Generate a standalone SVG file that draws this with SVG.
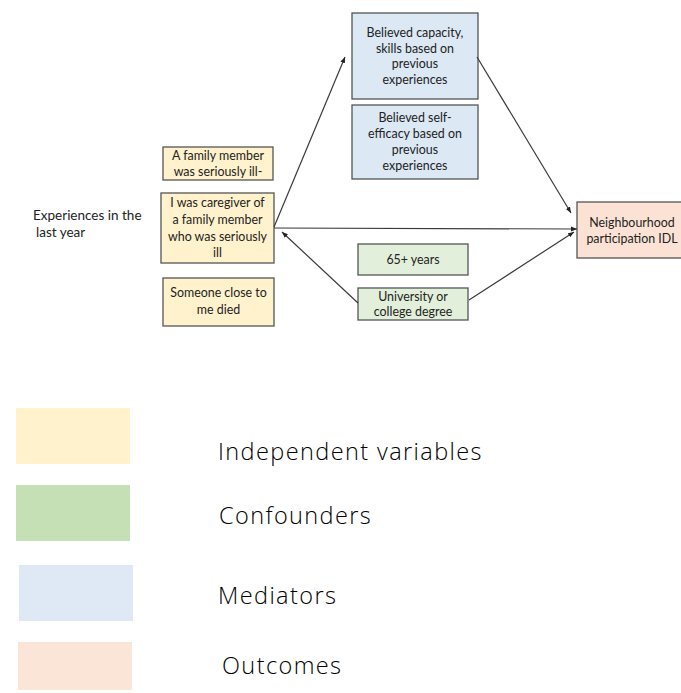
<svg xmlns="http://www.w3.org/2000/svg" width="681" height="693" viewBox="0 0 681 693">
  <style>
    .box { stroke: #555; stroke-width: 1.3; }
    .iv { fill: #fff2cc; }
    .med { fill: #dce8f4; }
    .conf { fill: #e2efda; }
    .out { fill: #fbe2d5; }
    .t { font-family: Lato, "Liberation Sans", sans-serif; font-size: 12.4px; fill: #222; text-anchor: middle; }
    .lbl { font-family: Lato, "Liberation Sans", sans-serif; font-size: 13.5px; fill: #222; }
    .leg { font-family: "Open Sans", Lato, sans-serif; font-weight: 300; font-size: 23.5px; letter-spacing: 1.4px; fill: #000; }
    .edge { stroke: #3a3a3a; stroke-width: 1.2; fill: none; marker-end: url(#head); }
  </style>
  <defs>
    <marker id="head" viewBox="0 0 10 10" refX="10" refY="5" markerWidth="6" markerHeight="6" markerUnits="userSpaceOnUse" orient="auto">
      <path d="M0,1 L10,5 L0,9 Z" fill="#222"/>
    </marker>
  </defs>

  <!-- group heading -->
  <g id="experiences-label">
    <text class="lbl" x="33" y="220">Experiences in the</text>
    <text class="lbl" x="36" y="237">last year</text>
  </g>

  <!-- independent variables -->
  <g id="family-ill">
    <rect class="box iv" x="163" y="147" width="110" height="33"/>
    <text class="t" x="218" y="160">A family member</text>
    <text class="t" x="218" y="176">was seriously ill-</text>
  </g>
  <g id="caregiver">
    <rect class="box iv" x="161" y="193" width="113" height="70"/>
    <text class="t" x="217.5" y="207">I was caregiver of</text>
    <text class="t" x="217.5" y="224">a family member</text>
    <text class="t" x="217.5" y="241">who was seriously</text>
    <text class="t" x="217.5" y="257">ill</text>
  </g>
  <g id="someone-died">
    <rect class="box iv" x="163" y="278" width="111" height="48"/>
    <text class="t" x="218.5" y="297">Someone close to</text>
    <text class="t" x="218.5" y="314">me died</text>
  </g>

  <!-- mediators -->
  <g id="capacity">
    <rect class="box med" x="352" y="13" width="126" height="86"/>
    <text class="t" x="415" y="37">Believed capacity,</text>
    <text class="t" x="415" y="53">skills based on</text>
    <text class="t" x="415" y="68">previous</text>
    <text class="t" x="415" y="84">experiences</text>
  </g>
  <g id="self-efficacy">
    <rect class="box med" x="352" y="105" width="126" height="74"/>
    <text class="t" x="415" y="122">Believed self-</text>
    <text class="t" x="415" y="138">efficacy based on</text>
    <text class="t" x="415" y="154">previous</text>
    <text class="t" x="415" y="170">experiences</text>
  </g>

  <!-- confounders -->
  <g id="age">
    <rect class="box conf" x="358" y="244" width="110" height="31"/>
    <text class="t" x="413" y="264">65+ years</text>
  </g>
  <g id="degree">
    <rect class="box conf" x="358" y="288" width="110" height="32"/>
    <text class="t" x="413" y="301">University or</text>
    <text class="t" x="413" y="316">college degree</text>
  </g>

  <!-- outcome -->
  <g id="participation">
    <rect class="box out" x="577" y="202" width="110" height="56"/>
    <text class="t" x="632" y="227">Neighbourhood</text>
    <text class="t" x="632" y="243">participation IDL</text>
  </g>

  <!-- connectors -->
  <g id="connectors">
    <line class="edge" x1="274" y1="227" x2="345" y2="57"/>
    <line class="edge" x1="477" y1="57" x2="571" y2="213"/>
    <line class="edge" x1="274" y1="228" x2="577" y2="229"/>
    <line class="edge" x1="469" y1="300" x2="574" y2="232"/>
    <line class="edge" x1="358" y1="303" x2="282" y2="232"/>
  </g>

  <!-- legend -->
  <g id="legend">
    <rect class="iv" x="16" y="408" width="114" height="56"/>
    <text class="leg" x="218" y="460">Independent variables</text>
    <rect fill="#c5e0b4" x="16" y="485" width="114" height="56"/>
    <text class="leg" x="219" y="524">Confounders</text>
    <rect fill="#dee9f5" x="19" y="565" width="114" height="56"/>
    <text class="leg" x="218" y="604">Mediators</text>
    <rect fill="#fbe5d6" x="18" y="642" width="114" height="48"/>
    <text class="leg" x="222" y="674">Outcomes</text>
  </g>
</svg>
